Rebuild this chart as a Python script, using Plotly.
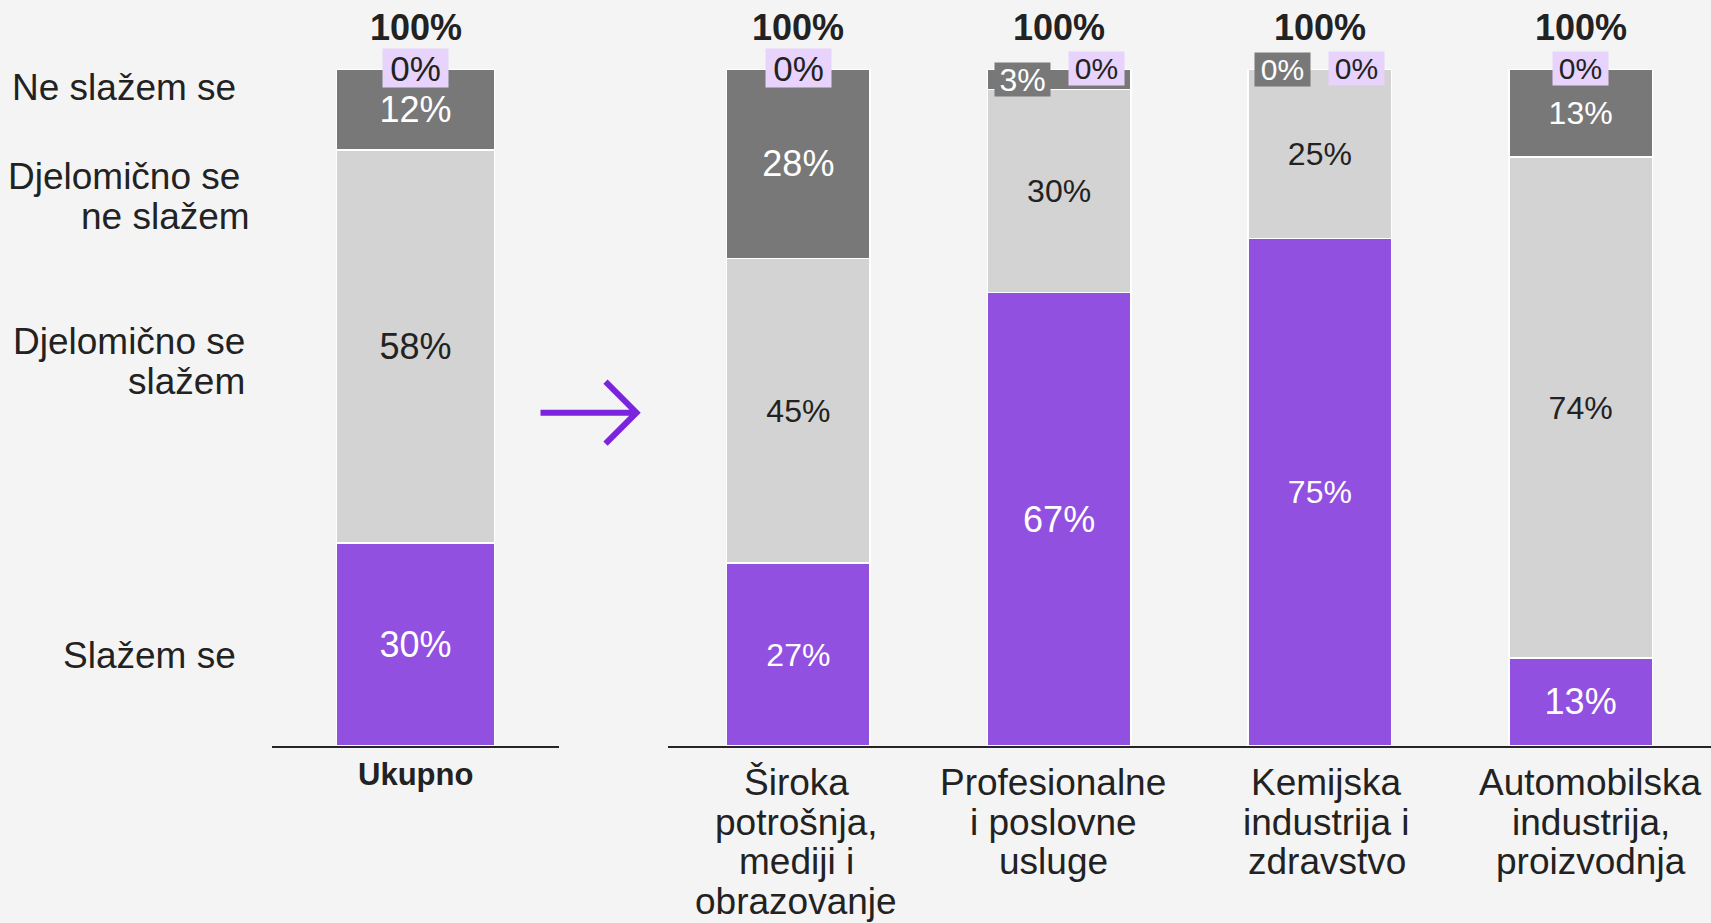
import plotly.graph_objects as go

# ---- data ----
segments = ['Slažem se', 'Djelomično se slažem', 'Djelomično se ne slažem', 'Ne slažem se']
segment_lines = [['Slažem se'], ['Djelomično se', 'slažem'], ['Djelomično se', 'ne slažem'], ['Ne slažem se']]

total_category = 'Ukupno'
total_values = [30, 58, 12, 0]

categories = [
    'Široka potrošnja, mediji i obrazovanje',
    'Profesionalne i poslovne usluge',
    'Kemijska industrija i zdravstvo',
    'Automobilska industrija, proizvodnja',
]
category_lines = [
    ['Široka', 'potrošnja,', 'mediji i', 'obrazovanje'],
    ['Profesionalne', 'i poslovne', 'usluge'],
    ['Kemijska', 'industrija i', 'zdravstvo'],
    ['Automobilska', 'industrija,', 'proizvodnja'],
]
slazem = [27, 67, 75, 13]
djelomicno_slazem = [45, 30, 25, 74]
djelomicno_ne_slazem = [28, 3, 0, 13]
ne_slazem = [0, 0, 0, 0]

# ---- style ----
W, H = 1711, 923
FONT = 'Liberation Sans, Arial, sans-serif'
BG = '#f4f4f4'
PURPLE = '#9150e0'
LIGHT = '#d3d3d3'
DARK = '#787878'
LAVENDER = '#e8d3fc'
TEXT = '#222222'
ARROW = '#7b24de'
colors = [PURPLE, LIGHT, DARK]
text_colors = ['white', TEXT, 'white']

# label font sizes inside the right-panel bars
right_sizes = [
    [32, 36, 32, 36],
    [32, 32, 32, 32],
    [36, 32, 32, 32],
]
box_font = [35, 30, 30, 30]
cat_xshift = [-2, -6, 7, 10]
LABEL_SIZE = 37


def px(p):
    return p / W


def py(p):
    return 1 - p / H


Y_DOMAIN = [py(746), py(69)]

fig = go.Figure()

right_series = [slazem, djelomicno_slazem, djelomicno_ne_slazem]
for i in range(3):
    v = total_values[i]
    fig.add_trace(go.Bar(
        x=[total_category], y=[v], name=segments[i],
        marker=dict(color=colors[i], line=dict(color='white', width=1.5)),
        text=[f'{v}%' if v >= 5 else ''],
        textposition='inside', insidetextanchor='middle', textangle=0,
        textfont=dict(family=FONT, size=36, color=text_colors[i]),
        xaxis='x', yaxis='y', hoverinfo='skip', showlegend=False
    ))
    vals = right_series[i]
    fig.add_trace(go.Bar(
        x=categories, y=vals, name=segments[i],
        marker=dict(color=colors[i], line=dict(color='white', width=1.5)),
        text=[f'{v}%' if v >= 5 else '' for v in vals],
        textposition='inside', insidetextanchor='middle', textangle=0,
        textfont=dict(family=FONT, size=right_sizes[i], color=text_colors[i]),
        xaxis='x2', yaxis='y2', hoverinfo='skip', showlegend=False
    ))

annotations = []

# totals (100%)
annotations.append(dict(
    x=total_category, y=sum(total_values), xref='x', yref='y', yshift=42,
    text=f'<b>{sum(total_values)}%</b>', showarrow=False,
    font=dict(family=FONT, size=36, color=TEXT)
))
for j, cat in enumerate(categories):
    tot = slazem[j] + djelomicno_slazem[j] + djelomicno_ne_slazem[j] + ne_slazem[j]
    annotations.append(dict(
        x=cat, y=tot, xref='x2', yref='y2', yshift=42,
        text=f'<b>{tot}%</b>', showarrow=False,
        font=dict(family=FONT, size=36, color=TEXT)
    ))

# small-value boxes
annotations.append(dict(
    x=total_category, y=sum(total_values) - total_values[3] / 2, xref='x', yref='y', yshift=1,
    text=f'{total_values[3]}%', showarrow=False, bgcolor=LAVENDER,
    width=65, height=38, borderpad=0,
    font=dict(family=FONT, size=35, color=TEXT)
))
for j, cat in enumerate(categories):
    tot = slazem[j] + djelomicno_slazem[j] + djelomicno_ne_slazem[j] + ne_slazem[j]
    big = box_font[j] >= 35
    bw, bh = (65, 38) if big else (55, 33)
    split = djelomicno_ne_slazem[j] < 5
    if split:
        annotations.append(dict(
            x=cat, y=slazem[j] + djelomicno_slazem[j] + djelomicno_ne_slazem[j] / 2,
            xref='x2', yref='y2', xshift=-37,
            text=f'{djelomicno_ne_slazem[j]}%', showarrow=False, bgcolor=DARK,
            width=bw, height=bh, borderpad=0,
            font=dict(family=FONT, size=box_font[j] + 2 if djelomicno_ne_slazem[j] else box_font[j],
                      color='white')
        ))
    annotations.append(dict(
        x=cat, y=tot - ne_slazem[j] / 2, xref='x2', yref='y2',
        xshift=37 if split else 0, yshift=1,
        text=f'{ne_slazem[j]}%', showarrow=False, bgcolor=LAVENDER,
        width=bw, height=bh, borderpad=0,
        font=dict(family=FONT, size=box_font[j], color=TEXT)
    ))

# segment labels on the left
seg_y = [[655.8], [341.5, 381.5], [176.8, 216.8], [87.3]]
seg_x = [[238], [246.6, 246.6], [242, 252], [238]]
for lines, ys, xs in zip(segment_lines, seg_y, seg_x):
    for line, yy, xx in zip(lines, ys, xs):
        annotations.append(dict(
            x=px(xx), y=py(yy), xref='paper', yref='paper',
            xanchor='right', yanchor='middle', text=line, showarrow=False,
            font=dict(family=FONT, size=LABEL_SIZE, color=TEXT)
        ))

# category labels
annotations.append(dict(
    x=total_category, y=py(774), xref='x', yref='paper', yanchor='middle',
    text=f'<b>{total_category}</b>', showarrow=False,
    font=dict(family=FONT, size=31, color=TEXT)
))
for cat, lines, xs in zip(categories, category_lines, cat_xshift):
    for k, line in enumerate(lines):
        annotations.append(dict(
            x=cat, y=py(782.5 + 39.5 * k), xref='x2', yref='paper', yanchor='middle',
            xshift=xs, text=line, showarrow=False,
            font=dict(family=FONT, size=LABEL_SIZE, color=TEXT)
        ))

# arrow between the panels
arrow_path = (f'M {px(540.5)},{py(412.7)} L {px(636.5)},{py(412.7)} '
              f'M {px(605.5)},{py(381.7)} L {px(636.5)},{py(412.7)} L {px(605.5)},{py(443.7)}')
shapes = [dict(type='path', xref='paper', yref='paper', path=arrow_path,
               line=dict(color=ARROW, width=6))]

fig.update_layout(
    width=W, height=H,
    margin=dict(l=0, r=0, t=0, b=0),
    paper_bgcolor=BG, plot_bgcolor=BG,
    barmode='stack', bargap=0.45,
    font=dict(family=FONT, color=TEXT),
    xaxis=dict(domain=[px(272), px(559)], type='category', range=[-0.5, 0.5],
               showline=True, linecolor='#262626', linewidth=2,
               showticklabels=False, ticks='', showgrid=False, zeroline=False,
               anchor='y', fixedrange=True),
    yaxis=dict(domain=Y_DOMAIN, range=[0, 100], visible=False, fixedrange=True),
    xaxis2=dict(domain=[px(668), 1], type='category', range=[-0.5, 3.5],
                showline=True, linecolor='#262626', linewidth=2,
                showticklabels=False, ticks='', showgrid=False, zeroline=False,
                anchor='y2', fixedrange=True),
    yaxis2=dict(domain=Y_DOMAIN, range=[0, 100], visible=False, anchor='x2', fixedrange=True),
    annotations=annotations,
    shapes=shapes,
    uniformtext=dict(mode=False),
)

fig.write_html("out.html", config={'displayModeBar': False},
               post_script="document.body.style.margin='0';")
